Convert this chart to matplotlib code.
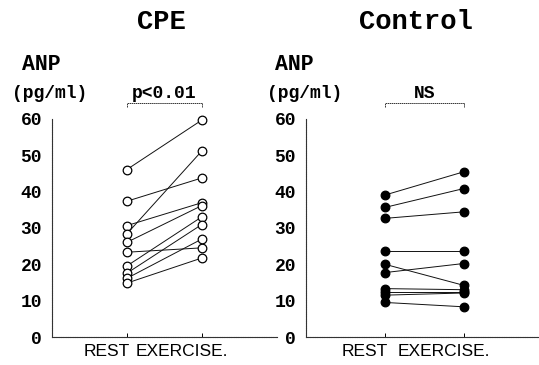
import matplotlib
matplotlib.use("Agg")
import matplotlib.pyplot as plt
import matplotlib.transforms as mtransforms

# ---- data ----
conditions = ["REST", "EXERCISE."]
cpe_rest = [46.0, 37.3, 30.6, 28.3, 26.0, 23.3, 19.5, 17.5, 16.1, 14.8]
cpe_exercise = [59.6, 43.7, 36.9, 51.1, 36.1, 24.5, 33.0, 30.9, 26.9, 21.7]
ctrl_rest = [39.0, 35.6, 32.6, 23.7, 20.0, 17.7, 13.3, 12.4, 11.5, 9.5]
ctrl_exercise = [45.4, 40.8, 34.4, 23.7, 14.2, 20.2, 13.0, 12.4, 12.1, 8.3]
yticks = [0, 10, 20, 30, 40, 50, 60]
titles = ["CPE", "Control"]
stats = ["p<0.01", "NS"]

MONO = ["Liberation Mono", "DejaVu Sans Mono"]
SANS = ["Liberation Sans Narrow", "Liberation Sans", "DejaVu Sans"]

W, H = 539, 365
fig = plt.figure(figsize=(W / 100, H / 100), dpi=100)

def px(x0, y0, w, h):
    return [x0 / W, 1 - (y0 + h) / H, w / W, h / H]

axes_specs = [
    (px(51.7, 118.7, 225.0, 218.3), 3.0, cpe_rest, cpe_exercise, "white", 21.7, 11.7, 161.5),
    (px(305.7, 118.7, 233.3, 218.3), 2.953, ctrl_rest, ctrl_exercise, "black", 275.0, 266.7, 416.0),
]

for i, (rect, xmax, rest, exer, face, anp_x, unit_x, title_x) in enumerate(axes_specs):
    ax = fig.add_axes(rect)
    x = [1, 2]
    for r, e in zip(rest, exer):
        ax.plot(x, [r, e], color="#111111", lw=0.7, marker="o", ms=6.2,
                mfc=face, mec="black", mew=0.9, clip_on=False, zorder=3)
    ax.set_xlim(0, xmax)
    ax.set_ylim(0, 60)
    for s in ["top", "right"]:
        ax.spines[s].set_visible(False)
    for s in ["left", "bottom"]:
        ax.spines[s].set_linewidth(0.8)
        ax.spines[s].set_color("#333333")
        ax.spines[s].set_linestyle((0, (1.5, 0.6)))
    ax.set_yticks(yticks)
    ax.set_yticklabels([str(v) for v in yticks], fontfamily=MONO,
                       fontweight="bold", fontsize=13)
    ax.tick_params(axis="y", length=0, pad=7)
    ax.set_xticks(x)
    ax.set_xticklabels(conditions, fontfamily=SANS, fontsize=12.5)
    ax.tick_params(axis="x", direction="in", length=3, width=0.7, pad=5)
    offset = mtransforms.ScaledTranslation(-0.2, 0, fig.dpi_scale_trans)
    for lab in ax.get_xticklabels():
        lab.set_transform(lab.get_transform() + offset)

    # significance bracket
    ax.plot([1, 1, 2, 2], [63.3, 64.2, 64.2, 63.3], color="#333333", lw=0.7,
            ls=(0, (1.5, 0.6)), clip_on=False)
    ax.text(1.5, 67.0, stats[i], ha="center", va="center", fontfamily=MONO,
            fontweight="bold", fontsize=13)

    # title and y-axis label
    fig.text(anp_x / W, 1 - 65 / H, "ANP", ha="left", va="center",
             fontfamily=MONO, fontweight="bold", fontsize=15.5)
    fig.text(unit_x / W, 1 - 93 / H, "(pg/ml)", ha="left", va="center",
             fontfamily=MONO, fontweight="bold", fontsize=13)
    fig.text(title_x / W, 1 - 22 / H, titles[i], ha="center", va="center",
             fontfamily=MONO, fontweight="bold", fontsize=19.5)

fig.savefig("out.png", dpi=100, facecolor="white")
